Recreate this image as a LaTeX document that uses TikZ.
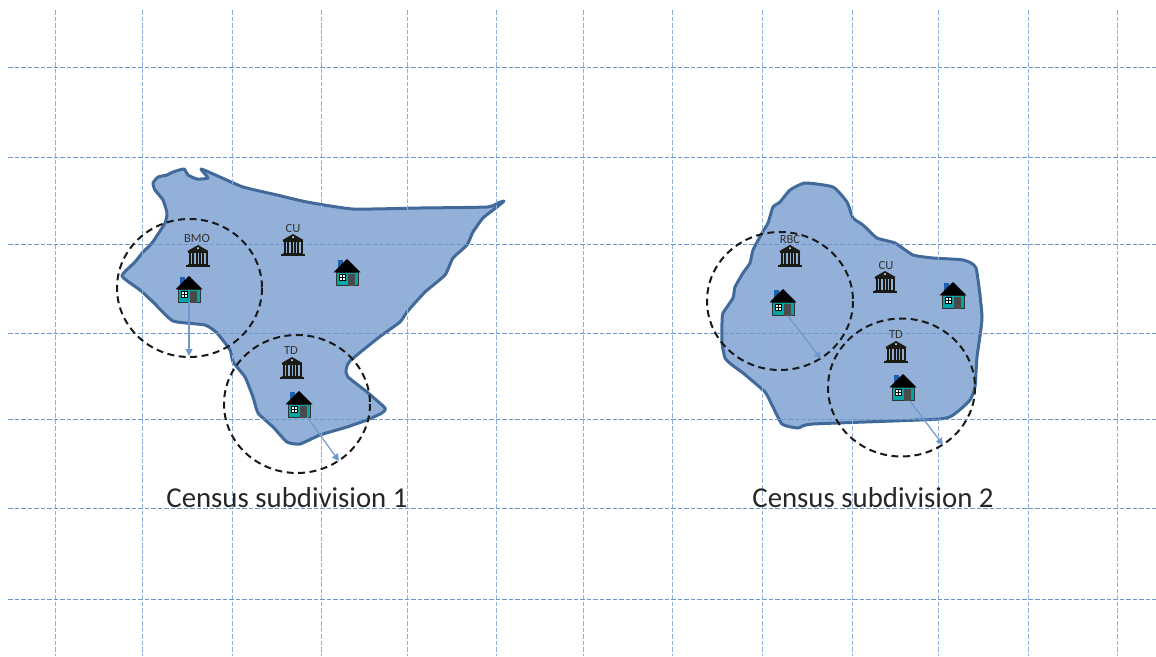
\documentclass[tikz,border=0pt]{standalone}
\usepackage{fontspec}
\setmainfont{Carlito}
\usetikzlibrary{arrows.meta}
\definecolor{gridblue}{HTML}{6C98CE}
\definecolor{gridlight}{HTML}{8DB0DC}
\definecolor{blobfill}{HTML}{92B0D8}
\definecolor{blobline}{HTML}{41699A}
\definecolor{arrowc}{HTML}{6E98CE}
\definecolor{teal1}{HTML}{00A5A5}
\definecolor{door}{HTML}{4A4A4A}
\definecolor{chim}{HTML}{1F5FB0}
\definecolor{bankc}{HTML}{1A1A14}
\tikzset{
  gridv/.style={draw=gridlight,line width=1pt,dash pattern=on 4.5pt off 2pt},
  gridh/.style={draw=gridblue,line width=1pt,dash pattern=on 4.5pt off 2pt},
  blob/.style={fill=blobfill,draw=blobline,line width=3pt,line join=round},
  reach/.style={draw=black!90,line width=2pt,dash pattern=on 7pt off 4.5pt},
  toreach/.style={draw=arrowc,line width=1.2pt,-{Triangle[length=7pt,width=7pt]}},
  banklabel/.style={font=\fontsize{12.5}{13}\selectfont,text=black!80,inner sep=0pt},
  title/.style={font=\fontsize{28.8}{30}\selectfont,text=black!85,inner sep=0pt},
  house/.pic={
    \fill[chim] (-9.5,1) rectangle (-4.5,10);
    \fill[teal1] (-11,13) rectangle (11,26.5);
    \draw[black!80,line width=0.8pt] (-11,13) rectangle (11,26.5);
    \fill[door] (0.7,15) rectangle (8,26.5);
    \fill[white] (-7.8,15.5) rectangle (-2,21);
    \draw[black,line width=0.5pt] (-7.8,15.5) rectangle (-2,21) (-4.9,15.5)--(-4.9,21) (-7.8,18.2)--(-2,18.2);
    \fill[black] (0,0) -- (13.5,13.3) -- (-13.5,13.3) -- cycle;
  },
  bank/.pic={
    \fill[bankc] (0,0) -- (10.5,6) -- (-10.5,6) -- cycle;
    \fill[bankc] (-10,6) rectangle (10,7.5);
    \foreach \q in {-8.5,-5,-1.5,1.5,5,8.5}{\fill[bankc] (\q-1,8) rectangle (\q+1,18.5);}
    \fill[bankc] (-10,18.5) rectangle (10,20);
    \fill[bankc] (-12,20.2) rectangle (12,22);
    \fill[white] (0,3.2) circle (1);
  },
}
\begin{document}
\begin{tikzpicture}[x=1pt,y=-1pt]
\useasboundingbox (0,0) rectangle (1156,656);
\path[blob] plot[smooth cycle,tension=0.3] coordinates {
 (122,276)(135,262)(143,252)(152,243)(165,223)(167,213)(163,200)(155,190)(153,183)(158,177)(167,175)(173,172)(184,169)(188,175)(197,179)(208,178)(201,169)(220,177)(243,187)(277,195)(307,202)(353,209)(420,208)(487,207)(498,203)(504,201)(497,207)(483,218)(473,232)(467,245)(453,258)(445,275)(425,292)(407,312)(400,322)(378,338)(350,361)(346,370)(348,377)(367,392)(385,408)(382,413)(367,420)(347,427)(320,435)(300,444)(287,442)(273,427)(258,413)(253,397)(245,377)(233,362)(230,350)(217,333)(205,325)(173,321)(153,302)(140,290)};
\path[blob] plot[smooth cycle,tension=0.3] coordinates {
 (805,183)(833,187)(847,202)(853,218)(863,225)(877,238)(895,243)(913,255)(933,258)(963,260)(976,268)(982,317)(977,357)(975,387)(970,400)(957,412)(940,419)(813,424)(798,428)(782,424)(772,405)(765,392)(743,373)(732,365)(725,358)(722,343)(722,323)(723,313)(733,298)(735,287)(743,273)(750,263)(753,250)(762,233)(768,223)(773,207)(780,202)(790,190)};
\foreach \gx in {55,142,232,321,407,496,583,672,762,852,938,1028,1117}{
  \draw[gridv] (\gx,10) -- (\gx,656);}
\foreach \gy in {67,157,244,333,419,508,599}{
  \draw[gridh] (8,\gy) -- (1156,\gy);}
\draw[reach] (189.5,288) ellipse (72.5 and 69);
\draw[reach] (297,404) ellipse (73 and 69);
\draw[reach] (780,301) ellipse (73 and 69);
\draw[reach] (901.5,387.5) ellipse (73.5 and 69);
\pic at (198,245) {bank};
\pic at (293,234) {bank};
\pic at (292,357) {bank};
\pic at (790,245) {bank};
\pic at (885,271) {bank};
\pic at (896,341) {bank};
\node[banklabel] (bmo) at (197,238) {BMO};
\node[banklabel] (cua) at (293,228) {CU};
\node[banklabel] (tda) at (291,350) {TD};
\node[banklabel] (rbc) at (790,239) {RBC};
\node[banklabel] (cub) at (886,265) {CU};
\node[banklabel] (tdb) at (896,334) {TD};
\pic at (189,276) {house};
\pic at (347,259) {house};
\pic at (299,391) {house};
\pic at (783,289) {house};
\pic at (953,282) {house};
\pic at (903,374) {house};
\coordinate (s1) at (189,302); \coordinate (e1) at (189,356);
\coordinate (s2) at (307,417); \coordinate (e2) at (339,461);
\coordinate (s3) at (788,316); \coordinate (e3) at (821,359);
\coordinate (s4) at (910,401); \coordinate (e4) at (943,445);
\draw[toreach] (s1) -- (e1);
\draw[toreach] (s2) -- (e2);
\draw[toreach] (s3) -- (e3);
\draw[toreach] (s4) -- (e4);
\node[title] (t1) at (287,498) {Census subdivision 1};
\node[title] (t2) at (873,498) {Census subdivision 2};
\end{tikzpicture}
\end{document}
